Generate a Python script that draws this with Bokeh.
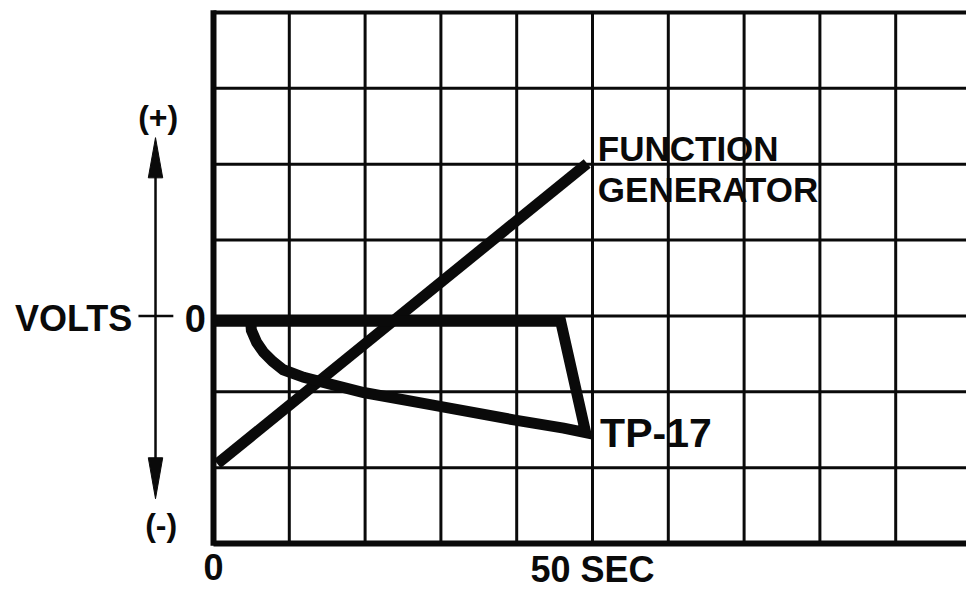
from bokeh.plotting import figure
from bokeh.models import Range1d
from bokeh.core.properties import value
from bokeh.embed import file_html
from bokeh.resources import INLINE

# ---------------- data ----------------
# time axis: 10 s per division; volts axis: one division per unit
grid_times = [10, 20, 30, 40, 50, 60, 70, 80, 90]
grid_volts = [-2, -1, 0, 1, 2, 3]
time_min, time_max = 0, 99.4
volt_min, volt_max = -3, 4

x_tick_values = [0, 50]
x_tick_labels = ["0", "50 SEC"]

# function generator ramp
fg_time = [0.5, 49.3]
fg_volts = [-1.95, 2.01]

# TP-17 response trace
tp_time = [0.0, 45.8, 49.1, 46.2, 39.6, 28.6, 19.8, 15.4, 11.9, 9.2, 7.8, 6.6, 5.7, 5.0, 4.9]
tp_volts = [-0.07, -0.07, -1.54, -1.48, -1.37, -1.17, -1.01, -0.90, -0.81, -0.71, -0.60, -0.48, -0.35, -0.19, -0.07]

# ---------------- figure ----------------
INK = "#0a0a0a"
FONT = value("Liberation Sans")

p = figure(width=966, height=591, output_backend="svg", toolbar_location=None,
           x_range=Range1d(-28.10, 99.34), y_range=Range1d(-3.633, 4.158),
           x_axis_location=None, y_axis_location=None, min_border=0)
p.grid.visible = False
p.outline_line_color = None
p.background_fill_color = "white"
p.border_fill_color = "white"

# grid lines
p.segment(x0=grid_times, y0=[volt_min] * len(grid_times), x1=grid_times, y1=[volt_max] * len(grid_times),
          line_color=INK, line_width=3)
p.segment(x0=[time_min] * len(grid_volts), y0=grid_volts, x1=[time_max] * len(grid_volts), y1=grid_volts,
          line_color=INK, line_width=3)

# frame borders (left, bottom, top)
p.segment(x0=[time_min], y0=[volt_min - 0.03], x1=[time_min], y1=[volt_max + 0.03], line_color=INK, line_width=6)
p.segment(x0=[time_min], y0=[volt_min], x1=[time_max], y1=[volt_min], line_color=INK, line_width=6)
p.segment(x0=[time_min], y0=[volt_max], x1=[time_max], y1=[volt_max], line_color=INK, line_width=4)

# traces
p.line(fg_time, fg_volts, line_color=INK, line_width=11, line_cap="butt")
p.line(tp_time, tp_volts, line_color=INK, line_width=11, line_join="miter", line_cap="butt")

# trace labels
p.text(x=[50.7, 50.7], y=[2.21, 1.67], text=["FUNCTION", "GENERATOR"], text_font=FONT,
       text_font_style="bold", text_font_size="35px", text_color=INK,
       text_align="left", text_baseline="middle")
p.text(x=[51.0], y=[-1.55], text=["TP-17"], text_font=FONT, text_font_style="bold",
       text_font_size="41px", text_color=INK, text_align="left", text_baseline="middle")

# time tick labels
p.text(x=x_tick_values, y=[-3.31, -3.34], text=x_tick_labels, text_font=FONT, text_font_style="bold",
       text_font_size="36px", text_color=INK, text_align="center", text_baseline="middle")

# volts axis annotation
arrow_x = -7.65
p.segment(x0=[arrow_x], y0=[-1.95], x1=[arrow_x], y1=[1.9], line_color=INK, line_width=2.5)
p.patches(xs=[[arrow_x - 0.95, arrow_x, arrow_x + 0.95], [arrow_x - 0.95, arrow_x, arrow_x + 0.95]],
          ys=[[1.82, 2.35, 1.82], [-1.87, -2.41, -1.87]], fill_color=INK, line_color=INK, line_width=1)
p.segment(x0=[-9.9], y0=[0.0], x1=[-5.3], y1=[0.0], line_color=INK, line_width=2.5)
p.text(x=[-26.2], y=[-0.03], text=["VOLTS"], text_font=FONT, text_font_style="bold",
       text_font_size="36px", text_color=INK, text_align="left", text_baseline="middle")
p.text(x=[-2.4], y=[-0.03], text=["0"], text_font=FONT, text_font_style="bold",
       text_font_size="38px", text_color=INK, text_align="center", text_baseline="middle")
p.text(x=[-7.3, -6.9], y=[2.62, -2.75], text=["(+)", "(-)"], text_font=FONT, text_font_style="bold",
       text_font_size="32px", text_color=INK, text_align="center", text_baseline="middle")

open("out.html", "w").write(file_html(p, INLINE))
